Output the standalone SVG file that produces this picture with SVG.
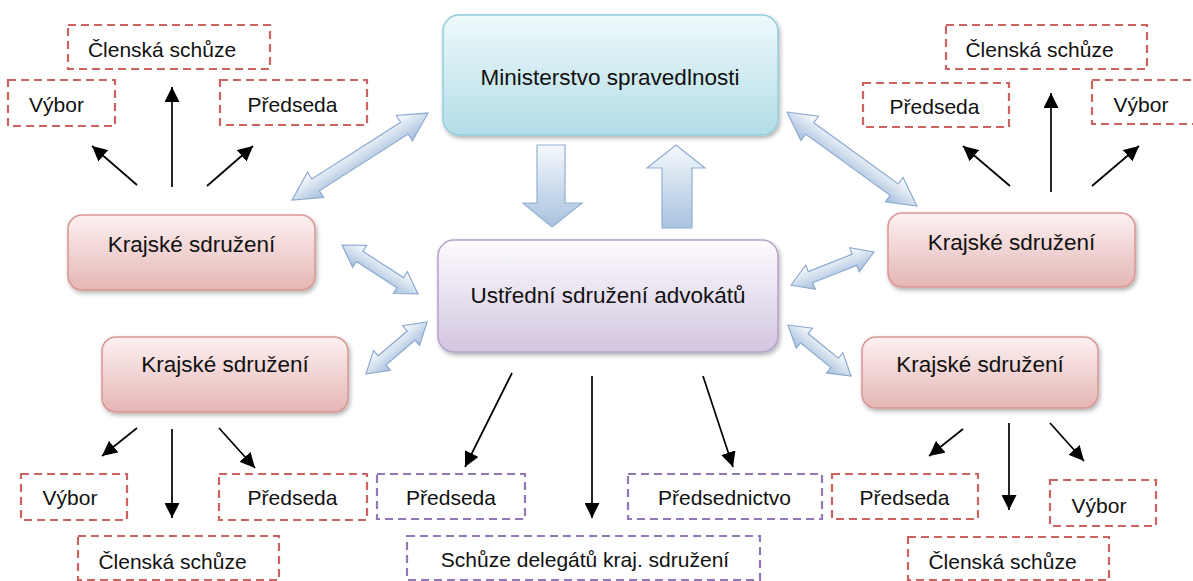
<svg xmlns="http://www.w3.org/2000/svg" width="1193" height="581" viewBox="0 0 1193 581">
<defs>
<linearGradient id="gMin" x1="0" y1="0" x2="0" y2="1"><stop offset="0" stop-color="#eef9fb"/><stop offset="1" stop-color="#b3dde7"/></linearGradient>
<linearGradient id="gUst" x1="0" y1="0" x2="0" y2="1"><stop offset="0" stop-color="#fdfbfe"/><stop offset="1" stop-color="#d3c6e1"/></linearGradient>
<linearGradient id="gKr" x1="0" y1="0" x2="0" y2="1"><stop offset="0" stop-color="#fdf1f1"/><stop offset="1" stop-color="#e4b6b5"/></linearGradient>
<linearGradient id="gArr" x1="0" y1="0" x2="0" y2="1"><stop offset="0" stop-color="#ffffff"/><stop offset="1" stop-color="#a4bedd"/></linearGradient>
<linearGradient id="gArrV" x1="0" y1="0" x2="0" y2="1"><stop offset="0" stop-color="#f4f8fc"/><stop offset="1" stop-color="#a9c2df"/></linearGradient>
<filter id="sh" x="-10%" y="-10%" width="130%" height="140%"><feDropShadow dx="1.5" dy="2.5" stdDeviation="2" flood-color="#000" flood-opacity="0.3"/></filter>
<marker id="ah2" viewBox="0 0 10 10" refX="10" refY="5" markerWidth="15" markerHeight="15" markerUnits="userSpaceOnUse" orient="auto"><path d="M0,0 L10,5 L0,10 Z" fill="#000"/></marker>
</defs>
<style>
text{font-family:"Liberation Sans",Arial,sans-serif;fill:#111;text-anchor:middle}
.big{font-size:22.5px}
.sm{font-size:21px}
.min{fill:url(#gMin);stroke:#93cddd;stroke-width:1.5}
.ust{fill:url(#gUst);stroke:#b3a2c7;stroke-width:1.5}
.kr{fill:url(#gKr);stroke:#d99694;stroke-width:1.5}
.dr{fill:none;stroke:#cd6361;stroke-width:2.2;stroke-dasharray:8,5}
.dp{fill:none;stroke:#9378b8;stroke-width:2.2;stroke-dasharray:8,5}
.ba{fill:url(#gArr);stroke:#8eaad0;stroke-width:1.2}
.bv{fill:url(#gArrV);stroke:#92afd3;stroke-width:1.2}
.ln{stroke:#000;stroke-width:1.7;fill:none;marker-end:url(#ah2)}
</style>

<g id="ministerstvo"><rect class="min" x="443" y="15" width="335" height="120" rx="16" filter="url(#sh)"/><text class="big" x="610" y="85">Ministerstvo spravedlnosti</text></g>
<g id="ustredni"><rect class="ust" x="438" y="240" width="340" height="112" rx="16" filter="url(#sh)"/><text class="big" x="608" y="303">Ustřední sdružení advokátů</text></g>
<g id="kraj-tl"><rect class="kr" x="68" y="215" width="247" height="75" rx="14" filter="url(#sh)"/><text class="big" x="191.5" y="252">Krajské sdružení</text></g>
<g id="kraj-bl"><rect class="kr" x="102" y="337" width="246" height="75" rx="14" filter="url(#sh)"/><text class="big" x="225" y="372">Krajské sdružení</text></g>
<g id="kraj-tr"><rect class="kr" x="888" y="213" width="247" height="74" rx="14" filter="url(#sh)"/><text class="big" x="1011.5" y="250">Krajské sdružení</text></g>
<g id="kraj-br"><rect class="kr" x="862" y="337" width="236" height="71" rx="14" filter="url(#sh)"/><text class="big" x="980" y="372">Krajské sdružení</text></g>

<g id="tl-clenska"><rect class="dr" x="68" y="25" width="202" height="44"/><text class="sm" x="162" y="57">Členská schůze</text></g>
<g id="tl-vybor"><rect class="dr" x="8" y="80" width="107" height="46"/><text class="sm" x="56.5" y="112">Výbor</text></g>
<g id="tl-predseda"><rect class="dr" x="220" y="80" width="147" height="45"/><text class="sm" x="292.5" y="112">Předseda</text></g>
<g id="tr-clenska"><rect class="dr" x="946" y="25" width="201" height="44"/><text class="sm" x="1039.5" y="57">Členská schůze</text></g>
<g id="tr-predseda"><rect class="dr" x="863" y="83" width="146" height="44"/><text class="sm" x="934.5" y="114">Předseda</text></g>
<g id="tr-vybor"><rect class="dr" x="1092" y="80" width="110" height="44"/><text class="sm" x="1141" y="112">Výbor</text></g>
<g id="bl-vybor"><rect class="dr" x="21" y="474" width="106" height="46"/><text class="sm" x="70" y="505">Výbor</text></g>
<g id="bl-predseda"><rect class="dr" x="219" y="474" width="148" height="46"/><text class="sm" x="292.5" y="505">Předseda</text></g>
<g id="bl-clenska"><rect class="dr" x="78" y="536" width="201" height="44"/><text class="sm" x="172.5" y="569">Členská schůze</text></g>
<g id="bc-predseda"><rect class="dp" x="377" y="474" width="148" height="45"/><text class="sm" x="451" y="505">Předseda</text></g>
<g id="bc-predsednictvo"><rect class="dp" x="628" y="474" width="194" height="45"/><text class="sm" x="724.5" y="505">Předsednictvo</text></g>
<g id="bc-schuze"><rect class="dp" x="407" y="536" width="353" height="44"/><text class="sm" x="585" y="567">Schůze delegátů kraj. sdružení</text></g>
<g id="br-predseda"><rect class="dr" x="832" y="474" width="146" height="45"/><text class="sm" x="904.5" y="505">Předseda</text></g>
<g id="br-vybor"><rect class="dr" x="1050" y="480" width="106" height="46"/><text class="sm" x="1099" y="513">Výbor</text></g>
<g id="br-clenska"><rect class="dr" x="908" y="537" width="201" height="43"/><text class="sm" x="1002.5" y="569">Členská schůze</text></g>

<g id="connectors">
<path class="bv" d="M537,145 L565,145 L565,203 L582,203 L552,227 L523,203 L537,203 Z"/>
<path class="bv" d="M676,145 L705,168 L692,168 L692,228 L662,228 L662,168 L647,168 Z"/>
<g transform="translate(292,200) rotate(-32.6)"><path class="ba" d="M0,0 L28,-15 L28,-7 L133.4,-7 L133.4,-15 L161.4,0 L133.4,15 L133.4,7 L28,7 L28,15 Z"/></g>
<g transform="translate(787,112) rotate(35.9)"><path class="ba" d="M0,0 L28,-15 L28,-7 L132.4,-7 L132.4,-15 L160.4,0 L132.4,15 L132.4,7 L28,7 L28,15 Z"/></g>
<g transform="translate(342,245) rotate(32.8)"><path class="ba" d="M0,0 L21,-13 L21,-6 L69.4,-6 L69.4,-13 L90.4,0 L69.4,13 L69.4,6 L21,6 L21,13 Z"/></g>
<g transform="translate(366,374) rotate(-40.4)"><path class="ba" d="M0,0 L21,-13 L21,-6 L59.2,-6 L59.2,-13 L80.2,0 L59.2,13 L59.2,6 L21,6 L21,13 Z"/></g>
<g transform="translate(791,285) rotate(-21.7)"><path class="ba" d="M0,0 L21,-13 L21,-6 L68.3,-6 L68.3,-13 L89.3,0 L68.3,13 L68.3,6 L21,6 L21,13 Z"/></g>
<g transform="translate(788,325) rotate(39)"><path class="ba" d="M0,0 L21,-13 L21,-6 L60.1,-6 L60.1,-13 L81.1,0 L60.1,13 L60.1,6 L21,6 L21,13 Z"/></g>

<line class="ln" x1="137" y1="185" x2="92" y2="146"/>
<line class="ln" x1="172" y1="187" x2="172" y2="87"/>
<line class="ln" x1="207" y1="186" x2="253" y2="146"/>
<line class="ln" x1="1010" y1="186" x2="963" y2="146"/>
<line class="ln" x1="1051" y1="192" x2="1051" y2="93"/>
<line class="ln" x1="1092" y1="186" x2="1139" y2="146"/>
<line class="ln" x1="137" y1="428" x2="102" y2="456"/>
<line class="ln" x1="172" y1="429" x2="172" y2="518"/>
<line class="ln" x1="219" y1="428" x2="255" y2="468"/>
<line class="ln" x1="512" y1="373" x2="465" y2="467"/>
<line class="ln" x1="592" y1="376" x2="592" y2="518"/>
<line class="ln" x1="703" y1="376" x2="733" y2="467"/>
<line class="ln" x1="963" y1="429" x2="929" y2="456"/>
<line class="ln" x1="1009" y1="423" x2="1009" y2="510"/>
<line class="ln" x1="1050" y1="423" x2="1084" y2="461"/>
</g>
</svg>
